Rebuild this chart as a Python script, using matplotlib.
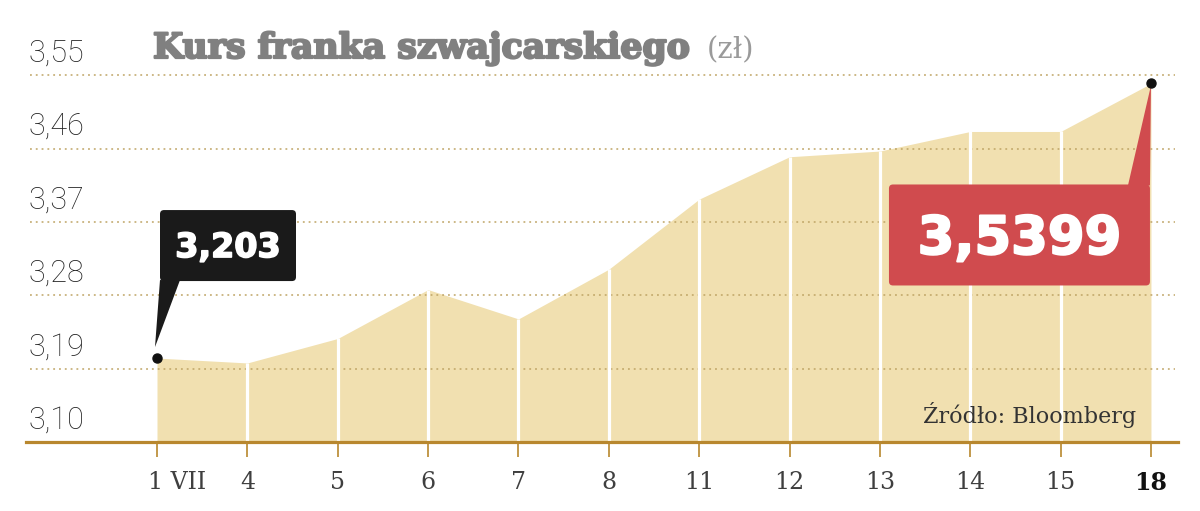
import matplotlib
matplotlib.use('Agg')
import matplotlib.pyplot as plt
from matplotlib.transforms import ScaledTranslation, IdentityTransform
from matplotlib.patches import FancyBboxPatch, Polygon
import matplotlib.patheffects as pe
import numpy as np

# ---- data ----
categories = ['1 VII', '4', '5', '6', '7', '8', '11', '12', '13', '14', '15', '18']
values = [3.203, 3.197, 3.227, 3.287, 3.251, 3.312, 3.398, 3.450, 3.457, 3.481, 3.481, 3.5399]
yticks = [3.10, 3.19, 3.28, 3.37, 3.46, 3.55]
ytick_labels = ['3,10', '3,19', '3,28', '3,37', '3,46', '3,55']
title = 'Kurs franka szwajcarskiego'
unit = '(zł)'
source = 'Źródło: Bloomberg'
first_label = '3,203'
last_label = '3,5399'

# ---- style ----
FILL = '#F1E0B0'
BROWN = '#B8872E'
GRID = '#BFA465'
RED = '#D04B4E'
BLACK = '#1A1A1A'

W, H = 1200, 511
DPI = 100
fig = plt.figure(figsize=(W / DPI, H / DPI), dpi=DPI)
fig.patch.set_facecolor('white')

left_px, right_px, base_px = 26, 1178, 442
ax = fig.add_axes([left_px / W, (H - base_px) / H, (right_px - left_px) / W, base_px / H])
x = np.arange(len(values))
x0_px, step_px = 157, 90.36
ppu = 815.0
ax.set_xlim((left_px - x0_px) / step_px, (right_px - x0_px) / step_px)
ax.set_ylim(yticks[0], yticks[0] + base_px / ppu)
ax.set_facecolor('none')

# area
ax.fill_between(x, yticks[0], values, color=FILL, lw=0, zorder=1)
ax.vlines(x[1:-1], yticks[0], values[1:-1], color='white', lw=2.3, zorder=3)

# grid (over the fill)
for yv in yticks[1:]:
    ax.axhline(yv, xmin=4 / (right_px - left_px), xmax=1 - 3 / (right_px - left_px),
               color=GRID, lw=1.1, ls=(0, (1.2, 2.6)), zorder=2)

# spines / ticks
for s in ['top', 'left', 'right']:
    ax.spines[s].set_visible(False)
ax.spines['bottom'].set_color(BROWN)
ax.spines['bottom'].set_linewidth(2.3)
ax.spines['bottom'].set_zorder(4)
ax.set_yticks([])
ax.set_xticks(x)
ax.set_xticklabels(categories, fontfamily='DejaVu Serif', fontsize=17, color='#3F3F3F')
ax.tick_params(axis='x', direction='out', length=11, width=1.2, color=BROWN, pad=10)
labels = ax.get_xticklabels()
labels[0].set_transform(labels[0].get_transform() + ScaledTranslation(0.20, 0, fig.dpi_scale_trans))
labels[-1].set_fontweight('bold')
labels[-1].set_color('#111111')

# y labels above gridlines
ytrans = ax.get_yaxis_transform() + ScaledTranslation(0, 0.22, fig.dpi_scale_trans)
for yv, lab in zip(yticks, ytick_labels):
    ax.text((29 - left_px) / (right_px - left_px), yv, lab, transform=ytrans,
            ha='left', va='center', fontfamily='Roboto', fontweight='light',
            fontsize=22, color='#222222')

# dots
ax.plot([x[0], x[-1]], [values[0], values[-1]], 'o', color='#111111', ms=6.5, zorder=7, clip_on=False)

fig.canvas.draw()
ident = IdentityTransform()

# black callout (first point)
p0 = ax.transData.transform((x[0], values[0]))
bl, br = p0[0] + 3, p0[0] + 139
bt, bb = p0[1] + 148, p0[1] + 77
ax.add_patch(FancyBboxPatch((bl, bb), br - bl, bt - bb,
                            boxstyle='round,pad=0,rounding_size=4',
                            transform=ident, fc=BLACK, ec='none', zorder=6, clip_on=False))
ax.add_patch(Polygon([(bl, bb + 1), (bl + 20, bb + 1), (p0[0] - 2, p0[1] + 11)],
                     closed=True, transform=ident, fc=BLACK, ec='none', zorder=6, clip_on=False))
ax.text((bl + br) / 2, (bt + bb) / 2 - 2, first_label, transform=ident, ha='center', va='center',
        fontfamily='DejaVu Sans', fontweight='bold', fontsize=24, color='white', zorder=8,
        path_effects=[pe.withStroke(linewidth=1.2, foreground='white')])

# red callout (last point)
p1 = ax.transData.transform((x[-1], values[-1]))
rl, rr = p1[0] - 262, p1[0] - 1
rt, rb = p1[1] - 101, p1[1] - 202
ax.add_patch(FancyBboxPatch((rl, rb), rr - rl, rt - rb,
                            boxstyle='round,pad=0,rounding_size=4',
                            transform=ident, fc=RED, ec='none', zorder=6, clip_on=False))
ax.add_patch(Polygon([(p1[0] - 23, rt - 1), (p1[0] - 1, rt - 1), (p1[0], p1[1] - 2)],
                     closed=True, transform=ident, fc=RED, ec='none', zorder=6, clip_on=False))
ax.text((rl + rr) / 2, (rt + rb) / 2 - 4, last_label, transform=ident, ha='center', va='center',
        fontfamily='DejaVu Sans', fontweight='bold', fontsize=38, color='white', zorder=8,
        path_effects=[pe.withStroke(linewidth=1.5, foreground='white')])

# source
fig.text(1136 / W, (H - 415) / H, source, ha='right', va='center',
         fontfamily='DejaVu Serif', fontsize=16, color='#333333', zorder=9)

# title fitted to width
renderer = fig.canvas.get_renderer()
t = fig.text(153 / W, (H - 58) / H, title, ha='left', va='baseline',
             fontfamily='DejaVu Serif', fontweight='bold', fontsize=24, color='#808080',
             path_effects=[pe.withStroke(linewidth=1.6, foreground='#808080')])
bbw = t.get_window_extent(renderer).width
t.set_fontsize(24 * 538 / bbw)
fig.text(707 / W, (H - 58) / H, unit, ha='left', va='baseline',
         fontfamily='DejaVu Serif', fontsize=21, color='#9A9A9A')

fig.savefig('out.png', dpi=DPI, facecolor='white')
